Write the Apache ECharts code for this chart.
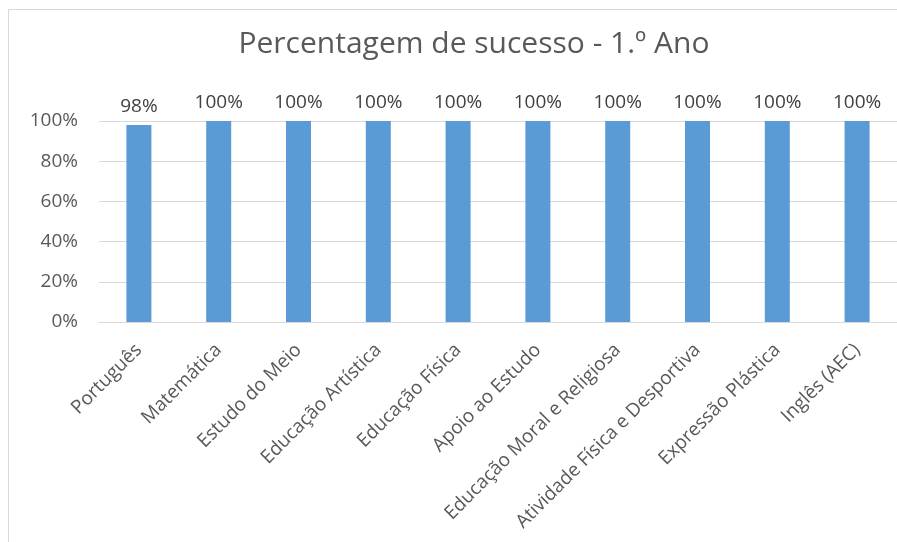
<!DOCTYPE html>
<html>
<head>
<meta charset="utf-8">
<script src="https://cdn.jsdelivr.net/npm/echarts@6/dist/echarts.min.js"></script>
<style>
  html, body { margin: 0; padding: 0; background: #fff; }
  #frame { position: absolute; left: 8px; top: 9px; width: 889px; height: 533px;
           border-left: 1px solid #d9d9d9; border-top: 1px solid #d9d9d9; }
  #box01 { position: absolute; left: 0; top: 0; width: 897px; height: 542px; }
</style>
</head>
<body>
<div id="frame"></div>
<div id="box01"></div>
<script>
var categories = ['Português', 'Matemática', 'Estudo do Meio', 'Educação Artística', 'Educação Física',
    'Apoio ao Estudo', 'Educação Moral e Religiosa', 'Atividade Física e Desportiva', 'Expressão Plástica', 'Inglês (AEC)'];
var sucesso = [98, 100, 100, 100, 100, 100, 100, 100, 100, 100];
var yTicks = [0, 20, 40, 60, 80, 100];

var fontFam = 'Open Sans';
var myChart = echarts.init(document.getElementById('box01'));

var option = {
    animation: false,
    title: {
        text: 'Percentagem de sucesso - 1.º Ano',
        left: 469,
        top: 24,
        textAlign: 'center',
        textStyle: { fontFamily: fontFam, fontSize: 30, fontWeight: 'normal', color: '#595959' }
    },
    grid: { left: 99, top: 121, width: 802, height: 201, containLabel: false },
    xAxis: {
        type: 'category',
        data: categories,
        axisLine: { lineStyle: { color: '#d9d9d9' } },
        axisTick: { show: false },
        axisLabel: {
            interval: 0,
            rotate: 45,
            margin: 25,
            fontFamily: fontFam,
            fontSize: 19,
            color: '#595959'
        }
    },
    yAxis: {
        type: 'value',
        min: yTicks[0],
        max: yTicks[yTicks.length - 1],
        interval: 20,
        axisLine: { show: false },
        axisTick: { show: false },
        splitLine: { lineStyle: { color: '#d9d9d9' } },
        axisLabel: {
            margin: 21,
            fontFamily: fontFam,
            fontSize: 19,
            color: '#595959',
            formatter: '{value}%'
        }
    },
    series: [{
        type: 'bar',
        data: sucesso,
        barWidth: 25,
        itemStyle: { color: '#5b9bd5' },
        label: {
            show: true,
            position: 'top',
            distance: 9,
            fontFamily: fontFam,
            fontSize: 19,
            color: '#404040',
            formatter: '{c}%'
        }
    }]
};
myChart.setOption(option);
</script>
</body>
</html>
